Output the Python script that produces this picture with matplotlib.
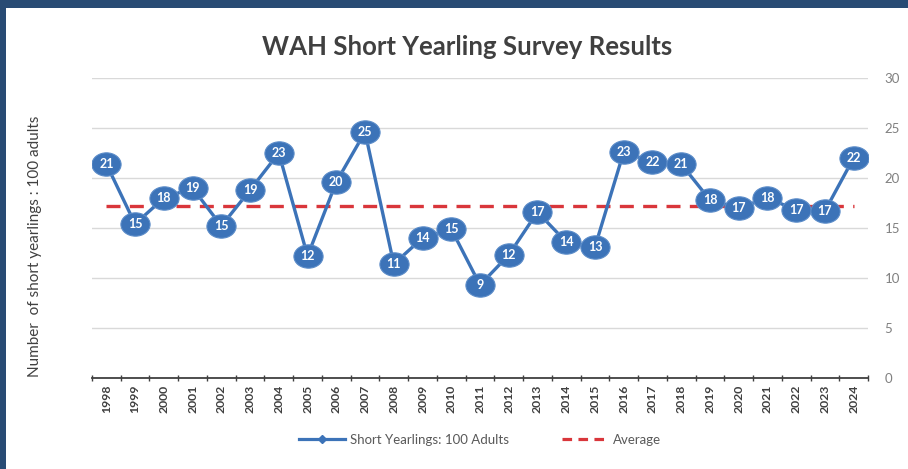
import matplotlib
matplotlib.use("Agg")
import matplotlib.pyplot as plt
from matplotlib.path import Path
from matplotlib.transforms import Affine2D
from matplotlib.lines import Line2D
from matplotlib.patches import Rectangle

years = [str(y) for y in range(1998, 2025)]
values = [21.4, 15.4, 18.0, 19.0, 15.2, 18.8, 22.5, 12.2, 19.6, 24.6,
          11.4, 14.0, 14.9, 9.3, 12.3, 16.6, 13.6, 13.1, 22.6, 21.6,
          21.4, 17.8, 17.0, 18.0, 16.8, 16.7, 22.0]
labels = [21, 15, 18, 19, 15, 19, 23, 12, 20, 25,
          11, 14, 15, 9, 12, 17, 14, 13, 23, 22,
          21, 18, 17, 18, 17, 17, 22]
average = 17.2
yticks = [0, 5, 10, 15, 20, 25, 30]

plt.rcParams['font.family'] = ['Lato', 'DejaVu Sans']

W, H = 908, 469
fig = plt.figure(figsize=(W / 100, H / 100), dpi=100)
fig.patch.set_facecolor('white')

# navy frame (top and left)
fig.patches.append(Rectangle((0, 1 - 8 / H), 1, 8 / H, transform=fig.transFigure,
                             facecolor='#284B74', edgecolor='none', zorder=0))
fig.patches.append(Rectangle((0, 0), 6 / W, 1, transform=fig.transFigure,
                             facecolor='#284B74', edgecolor='none', zorder=0))

left, right = 92 / W, 868 / W
bottom, top = (H - 378) / H, (H - 78) / H
ax = fig.add_axes([left, bottom, right - left, top - bottom])

x = list(range(len(years)))
blue = '#3C73B8'
red = '#D9363B'

ell = Path.unit_circle().transformed(Affine2D().scale(1.25, 1.0))

ax.plot(x, values, color=blue, lw=2.4, zorder=3,
        marker=ell, markersize=21, markerfacecolor=blue,
        markeredgecolor='#5A8BC8', markeredgewidth=0.8)
ax.plot(x, [average] * len(x), color=red, lw=2.4, dashes=(4.2, 2.8), zorder=2)

for xi, v, lab in zip(x, values, labels):
    ax.text(xi, v, str(lab), ha='center', va='center', color='white',
            fontsize=9, fontweight='bold', zorder=4)

ax.set_xlim(-0.5, len(years) - 0.5)
ax.set_ylim(0, 30)
ax.set_yticks(yticks)
ax.yaxis.tick_right()
ax.tick_params(axis='y', length=0, pad=12, labelsize=9.5, labelcolor='#808080')
ax.grid(axis='y', color='#D9D9D9', lw=1)
ax.set_axisbelow(True)

ax.set_xticks([i - 0.5 for i in range(len(years) + 1)], minor=False)
ax.set_xticklabels([])
ax.set_xticks(x, minor=True)
ax.set_xticklabels(years, minor=True, rotation=90, fontsize=8.8,
                   fontweight='bold', color='#404040')
ax.tick_params(axis='x', which='major', length=4, direction='inout',
               color='#404040', width=1)
ax.tick_params(axis='x', which='minor', length=0, pad=5)

for s in ['top', 'right', 'left']:
    ax.spines[s].set_visible(False)
ax.spines['bottom'].set_color('#404040')
ax.spines['bottom'].set_linewidth(1.3)

fig.text(467 / W, 1 - 47 / H, 'WAH Short Yearling Survey Results',
         ha='center', va='center', fontsize=18.5, fontweight='bold', color='#404040')
fig.text(35 / W, 1 - 246 / H, 'Number  of short yearlings : 100 adults',
         rotation=90, ha='center', va='center', fontsize=11, color='#404040')

leg_handles = [
    Line2D([0], [0], color=blue, lw=2.3, marker='D', markersize=4,
           markerfacecolor=blue),
    Line2D([0], [0], color=red, lw=2.3, dashes=(3, 2)),
]
fig.legend(leg_handles, ['Short Yearlings: 100 Adults', 'Average'],
           loc='center', bbox_to_anchor=(480 / W, 1 - 440 / H), ncol=2,
           frameon=False, fontsize=9.5, labelcolor='#595959',
           handlelength=3.5, columnspacing=4, handletextpad=0.4)

fig.savefig('out.png', dpi=100, facecolor='white')
